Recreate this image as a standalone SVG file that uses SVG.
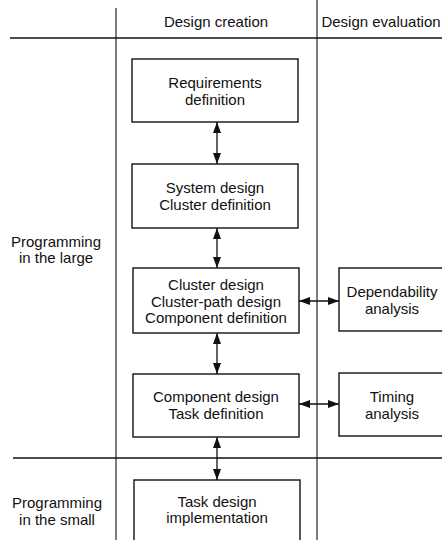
<svg xmlns="http://www.w3.org/2000/svg" width="442" height="540" viewBox="0 0 442 540">
<style>
.box{fill:#fff;stroke:#111;stroke-width:1.4}
.rule{stroke:#111;stroke-width:1.6;fill:none}
.vr{stroke:#111;stroke-width:1.1;fill:none}
.con{stroke:#111;stroke-width:1.3;fill:none;marker-start:url(#ah);marker-end:url(#ah)}
text{font-family:"Liberation Sans",Arial,sans-serif;font-size:15px;fill:#111;text-anchor:middle}
</style>
<defs>
<marker id="ah" viewBox="0 0 11 8" refX="11" refY="4" markerWidth="11" markerHeight="8" markerUnits="userSpaceOnUse" orient="auto-start-reverse">
<path d="M0,0 L11,4 L0,8 Z" fill="#111"/>
</marker>
</defs>
<rect width="442" height="540" fill="#fff"/>
<g id="grid">
<line class="vr" x1="116" y1="8" x2="116" y2="540"/>
<line class="vr" x1="317" y1="0" x2="317" y2="540"/>
<line class="rule" x1="10" y1="38" x2="442" y2="38"/>
<line class="rule" x1="13" y1="458" x2="442" y2="458"/>
</g>
<g id="headers">
<text x="216" y="27">Design creation</text>
<text x="381" y="27">Design evaluation</text>
<text x="56" y="247">Programming</text>
<text x="56" y="263">in the large</text>
<text x="57" y="508">Programming</text>
<text x="57" y="525">in the small</text>
</g>
<g id="connectors">
<line class="con" x1="217" y1="122" x2="217" y2="164"/>
<line class="con" x1="217" y1="228" x2="217" y2="268"/>
<line class="con" x1="217" y1="333" x2="217" y2="374"/>
<line class="con" x1="217" y1="437" x2="217" y2="480"/>
<line class="con" x1="299" y1="301" x2="339" y2="301"/>
<line class="con" x1="299" y1="404" x2="339" y2="404"/>
</g>
<g id="requirements">
<rect class="box" x="132" y="59" width="166" height="63"/>
<text x="215" y="88">Requirements</text>
<text x="215" y="105">definition</text>
</g>
<g id="system-design">
<rect class="box" x="132" y="164" width="166" height="64"/>
<text x="215" y="193">System design</text>
<text x="215" y="210">Cluster definition</text>
</g>
<g id="cluster-design">
<rect class="box" x="133" y="268" width="166" height="65"/>
<text x="216" y="290">Cluster design</text>
<text x="216" y="306.5">Cluster-path design</text>
<text x="216" y="323">Component definition</text>
</g>
<g id="component-design">
<rect class="box" x="133" y="374" width="166" height="63"/>
<text x="216" y="402">Component design</text>
<text x="216" y="419">Task definition</text>
</g>
<g id="task-design">
<rect class="box" x="134" y="480" width="166" height="70"/>
<text x="217" y="507">Task design</text>
<text x="217" y="523">implementation</text>
</g>
<g id="dependability">
<rect class="box" x="339" y="268" width="120" height="63"/>
<text x="392" y="296.5">Dependability</text>
<text x="392" y="313.5">analysis</text>
</g>
<g id="timing">
<rect class="box" x="339" y="373" width="120" height="63"/>
<text x="392" y="402">Timing</text>
<text x="392" y="419">analysis</text>
</g>
</svg>
